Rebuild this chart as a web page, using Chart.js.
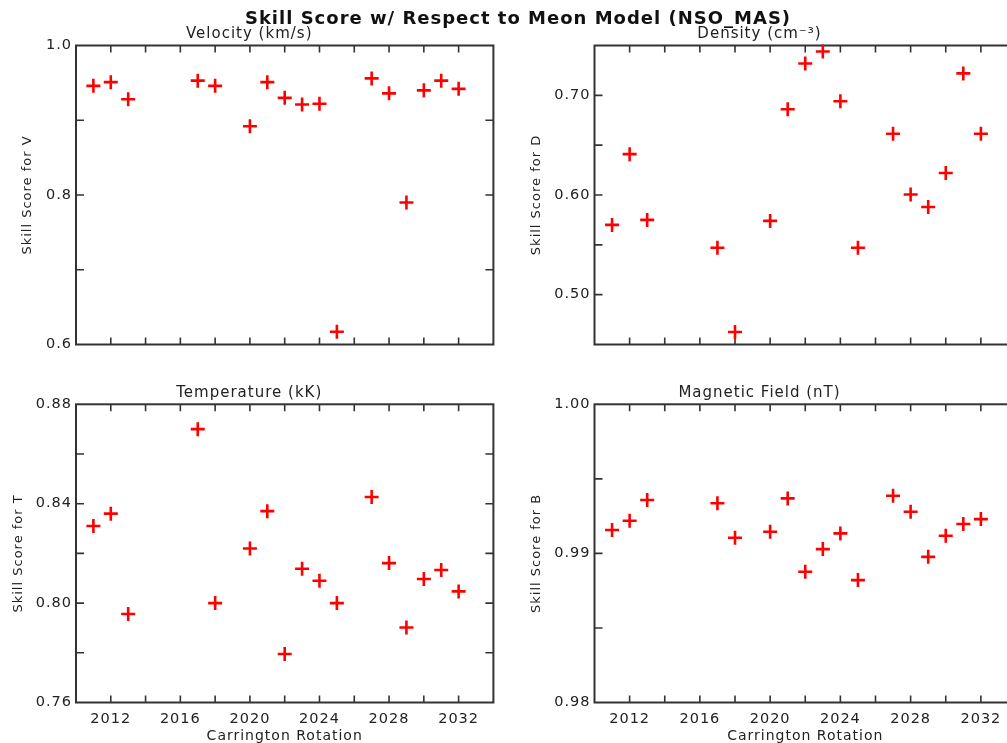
<!DOCTYPE html>
<html>
<head>
<meta charset="utf-8">
<title>Skill Score w/ Respect to Meon Model</title>
<script src="https://cdn.jsdelivr.net/npm/chart.js@4.4.0/dist/chart.umd.min.js"></script>
<style>
  html, body { margin: 0; padding: 0; background: #fff; overflow: hidden; }
  #page { position: relative; width: 1007px; height: 743px; overflow: hidden; }
  #page canvas { position: absolute; }
  #mainTitle {
    position: absolute; left: 0; top: 7px; width: 1036px;
    text-align: center; font: bold 18px "DejaVu Sans"; letter-spacing: 1px;
    line-height: 22px; color: #111; z-index: 2;
  }
</style>
</head>
<body>
<div id="page">
  <div id="mainTitle">Skill Score w/ Respect to Meon Model (NSO_MAS)</div>
  <canvas id="velocity" width="503" height="370" style="left:0;top:0"></canvas>
  <canvas id="density" width="530" height="370" style="left:503px;top:0"></canvas>
  <canvas id="temperature" width="503" height="373" style="left:0;top:370px"></canvas>
  <canvas id="field" width="530" height="373" style="left:503px;top:370px"></canvas>
</div>
<script>
// Carrington rotations that have a score
const rotations = [2011, 2012, 2013, 2017, 2018, 2020, 2021, 2022, 2023, 2024, 2025, 2027, 2028, 2029, 2030, 2031, 2032];

// skill scores, one per rotation
const velocityScore = [0.946, 0.951, 0.928, 0.953, 0.946, 0.892, 0.951, 0.930, 0.921, 0.922, 0.617, 0.956, 0.936, 0.790, 0.940, 0.953, 0.942];
const densityScore = [0.570, 0.641, 0.575, 0.547, 0.4625, 0.574, 0.686, 0.732, 0.744, 0.694, 0.547, 0.6615, 0.6005, 0.588, 0.622, 0.722, 0.6615];
const temperatureScore = [0.831, 0.836, 0.7956, 0.870, 0.800, 0.822, 0.837, 0.7795, 0.8138, 0.809, 0.800, 0.8427, 0.8161, 0.7902, 0.8097, 0.8133, 0.8047];
const fieldScore = [0.99157, 0.99219, 0.99358, 0.99336, 0.99105, 0.99145, 0.99369, 0.98877, 0.99029, 0.99134, 0.98821, 0.99387, 0.99279, 0.98977, 0.99118, 0.99197, 0.9923];

// x axis range and tick spacing
const rotationMin = 2010;
const rotationMax = 2034;
const rotationStep = 2;
const rotationLabelStep = 4;

Chart.defaults.font.family = '"DejaVu Sans", sans-serif';
Chart.defaults.font.size = 14.5;
Chart.defaults.color = '#222';

// IDL-ish look: closed box with inward tick marks on all four sides
const idlFrame = {
  id: 'idlFrame',
  beforeLayout(chart) { chart.ctx.letterSpacing = '1px'; },
  beforeDraw(chart) { chart.ctx.letterSpacing = '1px'; },
  beforeDatasetsDraw(chart) {
    const { ctx, chartArea: a, scales: { x, y } } = chart;
    ctx.save();
    ctx.strokeStyle = '#333';
    ctx.lineWidth = 2;
    ctx.strokeRect(a.left, a.top, a.right - a.left, a.bottom - a.top);
    ctx.lineWidth = 1.6;
    ctx.beginPath();
    x.ticks.forEach(t => {
      const px = x.getPixelForValue(t.value);
      if (px <= a.left + 1 || px >= a.right - 1) return;
      ctx.moveTo(px, a.bottom); ctx.lineTo(px, a.bottom - 7);
      ctx.moveTo(px, a.top); ctx.lineTo(px, a.top + 7);
    });
    y.ticks.forEach(t => {
      const py = y.getPixelForValue(t.value);
      if (py <= a.top + 1 || py >= a.bottom - 1) return;
      ctx.moveTo(a.left, py); ctx.lineTo(a.left + 8, py);
      ctx.moveTo(a.right, py); ctx.lineTo(a.right - 8, py);
    });
    ctx.stroke();
    ctx.restore();
  }
};

// build one panel; box = chart area inside its canvas
function makePanel(id, title, yTitle, scores, yAxis, box) {
  const canvas = document.getElementById(id);
  const points = rotations.map((r, i) => ({ x: r, y: scores[i] }));
  const titleFont = { size: 15, weight: 'normal', lineHeight: 1.2 };

  return new Chart(canvas, {
    type: 'scatter',
    data: {
      datasets: [{
        data: points,
        pointStyle: 'cross',
        pointRadius: 7,
        pointHoverRadius: 7,
        borderColor: '#ff0000',
        backgroundColor: '#ff0000',
        borderWidth: 2.6,
        pointBorderWidth: 2.6,
        clip: false
      }]
    },
    options: {
      responsive: false,
      animation: false,
      events: [],
      layout: { padding: { left: 0, right: canvas.width - box.right, top: 0, bottom: 0 } },
      plugins: {
        legend: { display: false },
        tooltip: { enabled: false },
        title: {
          display: true,
          text: title,
          color: '#222',
          font: titleFont,
          padding: { top: box.titleY - 9, bottom: box.top - box.titleY - 9 }
        }
      },
      scales: {
        x: {
          type: 'linear',
          min: rotationMin,
          max: rotationMax,
          grid: { display: false, drawTicks: false },
          border: { display: false },
          ticks: {
            display: box.xLabels,
            stepSize: rotationStep,
            autoSkip: false,
            maxRotation: 0,
            padding: 8,
            color: '#222',
            callback: v => (v % rotationLabelStep === 0 ? String(v) : '')
          },
          title: {
            display: box.xLabels,
            text: 'Carrington Rotation',
            color: '#222',
            font: { size: 14, lineHeight: 1 },
            padding: 0
          },
          afterFit: s => { s.height = canvas.height - box.bottom; }
        },
        y: {
          type: 'linear',
          min: yAxis.min,
          max: yAxis.max,
          grid: { display: false, drawTicks: false },
          border: { display: false },
          ticks: {
            stepSize: yAxis.step,
            autoSkip: false,
            padding: 4,
            color: '#222',
            callback: v => {
              const k = v / yAxis.labelStep;
              return Math.abs(k - Math.round(k)) < 1e-4 ? v.toFixed(yAxis.decimals) : '';
            }
          },
          title: {
            display: true,
            text: yTitle,
            color: '#222',
            font: { size: 13, lineHeight: 1.2 },
            padding: { top: box.yTitleX - 7.8, bottom: 0 }
          },
          afterFit: s => { s.width = box.left; }
        }
      }
    },
    plugins: [idlFrame]
  });
}

makePanel('velocity', 'Velocity (km/s)', 'Skill Score for V', velocityScore,
  { min: 0.6, max: 1.0, step: 0.1, labelStep: 0.2, decimals: 1 },
  { left: 76, right: 498.5, top: 45.5, bottom: 344.5, titleY: 34, yTitleX: 27.5, xLabels: false });

makePanel('density', 'Density (cm⁻³)', 'Skill Score for D', densityScore,
  { min: 0.45, max: 0.75, step: 0.05, labelStep: 0.1, decimals: 2 },
  { left: 91.5, right: 513, top: 45.5, bottom: 344.5, titleY: 34, yTitleX: 33.7, xLabels: false });

makePanel('temperature', 'Temperature (kK)', 'Skill Score for T', temperatureScore,
  { min: 0.76, max: 0.88, step: 0.02, labelStep: 0.04, decimals: 2 },
  { left: 76, right: 498.5, top: 34.3, bottom: 332.5, titleY: 23, yTitleX: 18.3, xLabels: true });

makePanel('field', 'Magnetic Field (nT)', 'Skill Score for B', fieldScore,
  { min: 0.98, max: 1.0, step: 0.005, labelStep: 0.01, decimals: 2 },
  { left: 91.5, right: 513, top: 34.3, bottom: 332.5, titleY: 23, yTitleX: 33.7, xLabels: true });
</script>
</body>
</html>
